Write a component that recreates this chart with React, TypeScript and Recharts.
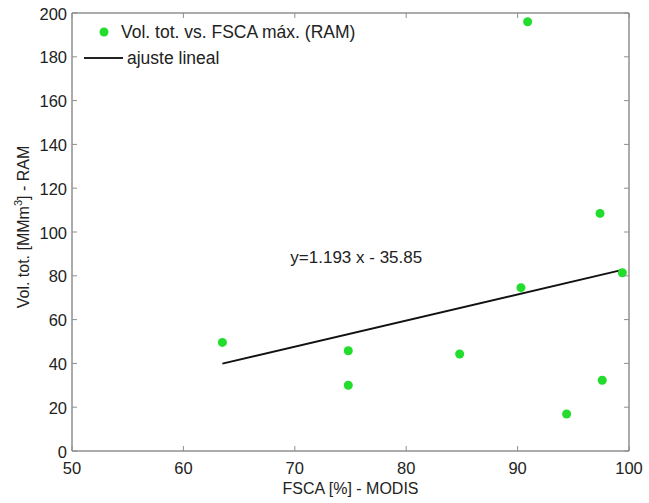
import React from "react";
import {
  ScatterChart,
  Scatter,
  XAxis,
  YAxis,
  Legend,
  ReferenceDot,
} from "recharts";

// FSCA max (%) from MODIS vs. total volume (MMm3) at RAM
const fscaValues = [63.5, 74.8, 74.8, 84.8, 90.3, 90.9, 94.4, 97.4, 97.6, 99.4];
const volValues = [49.6, 45.8, 30.0, 44.3, 74.6, 196.0, 16.9, 108.5, 32.3, 81.4];

// linear fit end points
const fitX = [63.5, 99.4];
const fitY = [39.9, 82.7];

const xTicks = [50, 60, 70, 80, 90, 100];
const yTicks = [0, 20, 40, 60, 80, 100, 120, 140, 160, 180, 200];

const seriesName = "Vol. tot. vs. FSCA máx. (RAM)";
const fitName = "ajuste lineal";
const equation = "y=1.193 x - 35.85";

const W = 649;
const H = 503;
const FONT = "'Liberation Sans', Arial, sans-serif";
const AXIS = "#8f8f8f";
const TEXT = "#222";
const GREEN = "#22dd2c";

const points = fscaValues.map((x, i) => ({ x, y: volValues[i] }));
const fitLine = fitX.map((x, i) => ({ x, y: fitY[i] }));

const BottomTick = (p: any) => (
  <g>
    <line x1={p.x} y1={p.y} x2={p.x} y2={p.y - 5} stroke={AXIS} strokeWidth={1} />
    <text x={p.x} y={p.y + 23} textAnchor="middle" fontSize={16.5} fill={TEXT} fontFamily={FONT}>
      {p.payload.value}
    </text>
  </g>
);

const TopTick = (p: any) => (
  <line x1={p.x} y1={p.y} x2={p.x} y2={p.y + 5} stroke={AXIS} strokeWidth={1} />
);

const LeftTick = (p: any) => (
  <g>
    <line x1={p.x} y1={p.y} x2={p.x + 5} y2={p.y} stroke={AXIS} strokeWidth={1} />
    <text x={p.x - 5} y={p.y + 6.5} textAnchor="end" fontSize={16.5} fill={TEXT} fontFamily={FONT}>
      {p.payload.value}
    </text>
  </g>
);

const RightTick = (p: any) => (
  <line x1={p.x} y1={p.y} x2={p.x - 5} y2={p.y} stroke={AXIS} strokeWidth={1} />
);

const XTitle = (p: any) => {
  const vb = p.viewBox || {};
  return (
    <text
      x={vb.x + vb.width / 2}
      y={vb.y + 43}
      textAnchor="middle"
      fontSize={16}
      fill={TEXT}
      fontFamily={FONT}
    >
      FSCA [%] - MODIS
    </text>
  );
};

const YTitle = (p: any) => {
  const vb = p.viewBox || {};
  const cx = 29;
  const cy = vb.y + vb.height / 2 - 5;
  return (
    <text
      transform={`translate(${cx},${cy}) rotate(-90)`}
      textAnchor="middle"
      fontSize={16}
      fill={TEXT}
      fontFamily={FONT}
    >
      Vol. tot. [MMm
      <tspan fontSize={11} dy={-7}>3</tspan>
      <tspan dy={7}>] - RAM</tspan>
    </text>
  );
};

const EquationLabel = (p: any) => {
  const vb = p.viewBox || {};
  return (
    <text x={vb.x} y={vb.y} fontSize={17} fill={TEXT} fontFamily={FONT}>
      {equation}
    </text>
  );
};

const LegendBox = () => (
  <svg width={380} height={75} style={{ display: "block" }}>
    <circle cx={104} cy={32} r={4.5} fill={GREEN} />
    <text x={121} y={38} fontSize={17.5} fill={TEXT} fontFamily={FONT}>
      {seriesName}
    </text>
    <line x1={84} y1={58} x2={123} y2={58} stroke="#222" strokeWidth={2} />
    <text x={127} y={64} fontSize={17.5} fill={TEXT} fontFamily={FONT}>
      {fitName}
    </text>
  </svg>
);

export default function App() {
  return (
    <div style={{ position: "absolute", left: 0, top: 0, width: W, height: H, background: "#fff" }}>
      <ScatterChart
        width={W}
        height={H}
        margin={{ top: 12, right: 19, bottom: 0, left: 0 }}
      >
        <XAxis
          xAxisId="b"
          type="number"
          dataKey="x"
          domain={[50, 100]}
          ticks={xTicks}
          height={52}
          tickSize={0}
          tickMargin={0}
          axisLine={{ stroke: AXIS, strokeWidth: 1.5 }}
          tickLine={false}
          tick={BottomTick}
          allowDataOverflow
          label={<XTitle />}
        />
        <XAxis
          xAxisId="t"
          orientation="top"
          type="number"
          dataKey="x"
          domain={[50, 100]}
          ticks={xTicks}
          height={1}
          tickSize={0}
          tickMargin={0}
          axisLine={{ stroke: AXIS, strokeWidth: 1.5 }}
          tickLine={false}
          tick={TopTick}
          allowDataOverflow
        />
        <YAxis
          yAxisId="l"
          type="number"
          dataKey="y"
          domain={[0, 200]}
          ticks={yTicks}
          width={72}
          tickSize={0}
          tickMargin={0}
          axisLine={{ stroke: AXIS, strokeWidth: 1.5 }}
          tickLine={false}
          tick={LeftTick}
          allowDataOverflow
          label={<YTitle />}
        />
        <YAxis
          yAxisId="r"
          orientation="right"
          type="number"
          dataKey="y"
          domain={[0, 200]}
          ticks={yTicks}
          width={1}
          tickSize={0}
          tickMargin={0}
          axisLine={{ stroke: AXIS, strokeWidth: 1.5 }}
          tickLine={false}
          tick={RightTick}
          allowDataOverflow
        />
        <Scatter
          name={fitName}
          data={fitLine}
          xAxisId="b"
          yAxisId="l"
          line={{ stroke: "#111", strokeWidth: 2 }}
          shape={() => <g />}
          isAnimationActive={false}
        />
        <Scatter
          name={seriesName}
          data={points}
          xAxisId="b"
          yAxisId="l"
          fill={GREEN}
          shape={(p: any) => <circle cx={p.cx} cy={p.cy} r={4.5} fill={GREEN} />}
          isAnimationActive={false}
        />
        <ReferenceDot
          xAxisId="b"
          yAxisId="l"
          x={69.6}
          y={85.8}
          r={0}
          stroke="none"
          fill="none"
          label={<EquationLabel />}
        />
        <Legend
          layout="vertical"
          align="center"
          verticalAlign="middle"
          content={<LegendBox />}
          wrapperStyle={{ position: "absolute", left: 0, top: 0, width: 380, height: 75 }}
        />
      </ScatterChart>
    </div>
  );
}
